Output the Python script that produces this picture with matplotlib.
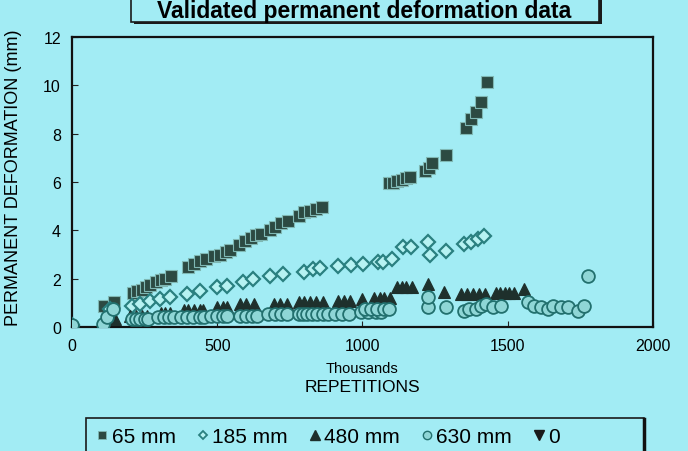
import matplotlib
matplotlib.use("Agg")
import matplotlib.pyplot as plt
from matplotlib.patches import Rectangle
from matplotlib.lines import Line2D

plt.rcParams['font.family'] = ['Liberation Sans', 'DejaVu Sans']

# ---------------- data (thousands of repetitions, mm) ----------------
sq_x = [110, 145, 210, 225, 240, 255, 270, 290, 305, 320, 340,
        400, 420, 440, 460, 490, 510, 530, 545,
        575, 595, 615, 635, 650, 680, 700, 720, 745,
        780, 800, 820, 840, 860,
        1090, 1105, 1120, 1135, 1150, 1165, 1215, 1230, 1240, 1286,
        1355, 1372, 1390, 1407, 1428]
sq_y = [0.85, 1.05, 1.4, 1.5, 1.55, 1.65, 1.75, 1.85, 1.95, 2.0, 2.1,
        2.5, 2.6, 2.75, 2.8, 2.95, 3.0, 3.1, 3.2,
        3.4, 3.55, 3.7, 3.8, 3.85, 4.0, 4.15, 4.3, 4.4,
        4.6, 4.75, 4.8, 4.9, 4.95,
        5.95, 5.95, 6.05, 6.1, 6.15, 6.2, 6.45, 6.6, 6.8, 7.13,
        8.25, 8.6, 8.9, 9.3, 10.15]

di_x = [0, 130, 207, 234, 269, 303, 338, 397, 441, 500, 534, 590, 624, 683,
        728, 797, 831, 855, 914, 959, 1003, 1052, 1072, 1103, 1138, 1166,
        1224, 1234, 1286, 1348, 1372, 1397, 1417]
di_y = [0.1, 0.75, 0.87, 0.95, 1.07, 1.16, 1.24, 1.36, 1.49, 1.65, 1.69, 1.86, 1.98, 2.1,
        2.19, 2.27, 2.4, 2.44, 2.52, 2.56, 2.6, 2.69, 2.69, 2.81, 3.3, 3.3,
        3.5, 3.0, 3.14, 3.43, 3.5, 3.64, 3.76]

tr_x = [148, 200, 220, 240, 258, 305, 320, 338, 385, 400, 420, 440, 452,
        500, 520, 535, 580, 600, 625, 695, 715, 740,
        780, 800, 820, 840, 865, 915, 935, 958, 1000, 1040, 1060, 1075, 1095,
        1120, 1135, 1150, 1170, 1224, 1279,
        1340, 1360, 1380, 1400, 1420, 1460, 1475, 1490, 1505, 1520, 1555]
tr_y = [0.33, 0.45, 0.45, 0.45, 0.45, 0.6, 0.6, 0.6, 0.72, 0.72, 0.72, 0.72, 0.72,
        0.83, 0.83, 0.83, 0.95, 0.95, 0.95, 0.95, 0.95, 0.95,
        1.03, 1.03, 1.03, 1.03, 1.03, 1.07, 1.07, 1.07, 1.16, 1.2, 1.2, 1.2, 1.2,
        1.65, 1.65, 1.65, 1.65, 1.78, 1.45,
        1.36, 1.36, 1.36, 1.36, 1.36, 1.4, 1.4, 1.4, 1.4, 1.4, 1.57]

ci_x = [0, 107, 121, 141, 205, 220, 235, 250, 260, 295, 315, 335, 350,
        375, 395, 415, 440, 455, 480, 500, 520, 535, 580, 600, 620, 638,
        675, 700, 720, 740, 780, 795, 810, 825, 845, 865, 880, 905, 930, 955,
        995, 1020, 1045, 1065, 1010, 1030, 1050, 1075, 1090,
        1224, 1224, 1286, 1348, 1366, 1390, 1407, 1424, 1448, 1476,
        1569, 1590, 1614, 1638, 1655, 1683, 1707, 1741, 1762, 1776]
ci_y = [0.1, 0.12, 0.41, 0.74, 0.33, 0.33, 0.33, 0.33, 0.33, 0.41, 0.41, 0.41, 0.41,
        0.41, 0.41, 0.41, 0.41, 0.41, 0.45, 0.45, 0.45, 0.45, 0.45, 0.45, 0.45, 0.45,
        0.54, 0.54, 0.54, 0.54, 0.54, 0.54, 0.54, 0.54, 0.54, 0.54, 0.54, 0.54, 0.54, 0.54,
        0.62, 0.62, 0.62, 0.62, 0.75, 0.75, 0.75, 0.75, 0.75,
        0.83, 1.24, 0.83, 0.66, 0.74, 0.74, 0.87, 0.95, 0.83, 0.87,
        1.03, 0.87, 0.83, 0.74, 0.87, 0.83, 0.83, 0.66, 0.87, 2.1]

zero_x = []
zero_y = []

labels = ['65 mm', '185 mm', '480 mm', '630 mm', '0']
x_ticks = [0, 500, 1000, 1500, 2000]
y_ticks = [0, 2, 4, 6, 8, 10, 12]

title = 'Validated permanent deformation data'

# ---------------- styling ----------------
BG = '#a2ecf4'
fig = plt.figure(figsize=(6.88, 4.52), dpi=100, facecolor=BG)
ax = fig.add_axes([72/688, 1-328/452, (653-72)/688, (328-38)/452])
ax.set_facecolor(BG)

ax.plot(sq_x, sq_y, ls='none', marker='s', ms=9, mfc='#2c4a42', mec='#7fb8b4', mew=0.8, zorder=3)
ax.plot(di_x, di_y, ls='none', marker='D', ms=7.2, mfc='#b6f2f2', mec='#2a8080', mew=1.6, zorder=3)
ax.plot(tr_x, tr_y, ls='none', marker='^', ms=8.5, mfc='#1e302c', mec='#1e302c', mew=0.8, zorder=4)
ax.plot(ci_x, ci_y, ls='none', marker='o', ms=9.2, mfc='#8fd6d6', mec='#22706e', mew=1.3, zorder=5)
ax.plot(zero_x, zero_y, ls='none', marker='v', ms=8, color='#1a1a1a', zorder=3)

ax.set_xlim(0, 2000)
ax.set_ylim(0, 12)
ax.set_xticks(x_ticks)
ax.set_yticks(y_ticks)
ax.tick_params(direction='in', length=4, labelsize=11.5, color='#222222', pad=8)
for s in ax.spines.values():
    s.set_linewidth(1.6)
    s.set_color('#111111')

fig.text((72+653)/2/688, 1-369/452, 'Thousands', ha='center', va='center', fontsize=10.5)
fig.text((72+653)/2/688, 1-387/452, 'REPETITIONS', ha='center', va='center', fontsize=12.5)

fig.text(14/688, 1-178/452, 'PERMANENT DEFORMATION (mm)', rotation=90,
         ha='center', va='center', fontsize=13)

# title box (top edge beyond the figure, like the reference)
fig.patches.append(Rectangle((134/688, 1-25/452), (602-134)/688, 40/452,
                             transform=fig.transFigure, facecolor='#1a1a1a',
                             edgecolor='none', zorder=1))
fig.patches.append(Rectangle((131/688, 1-23/452), (599-131)/688, 40/452,
                             transform=fig.transFigure, facecolor=BG,
                             edgecolor='#1a1a1a', lw=1.2, zorder=2))
fig.text(364/688, 1-18/452, title, ha='center', va='baseline',
         fontsize=16.5, fontweight='bold', zorder=3)

# legend box
fig.patches.append(Rectangle((86/688, 1-458/452), (644-86)/688, (458-419)/452,
                             transform=fig.transFigure, facecolor=BG,
                             edgecolor='#1a1a1a', lw=1.2, zorder=1))
fig.add_artist(Line2D([644/688, 644/688], [0, 1-420/452],
                      transform=fig.transFigure, color='#111111', lw=2.5))

handles = [
    Line2D([], [], ls='none', marker='s', ms=5.5, mfc='#2c4a42', mec='#7fb8b4', mew=0.6),
    Line2D([], [], ls='none', marker='D', ms=4.5, mfc='#b6f2f2', mec='#2a8080', mew=1.3),
    Line2D([], [], ls='none', marker='^', ms=6.5, mfc='#1e302c', mec='#1e302c'),
    Line2D([], [], ls='none', marker='o', ms=6, mfc='#8fd6d6', mec='#22706e', mew=1.0),
    Line2D([], [], ls='none', marker='v', ms=6.5, color='#1a1a1a'),
]
fig.legend(handles, labels, ncol=5, loc='center left',
           bbox_to_anchor=(96/688, 1-438/452), frameon=False, fontsize=15,
           handlelength=0.6, handletextpad=0.15, columnspacing=1.0,
           borderaxespad=0, borderpad=0)

fig.savefig('out.png', dpi=100, facecolor=BG)
